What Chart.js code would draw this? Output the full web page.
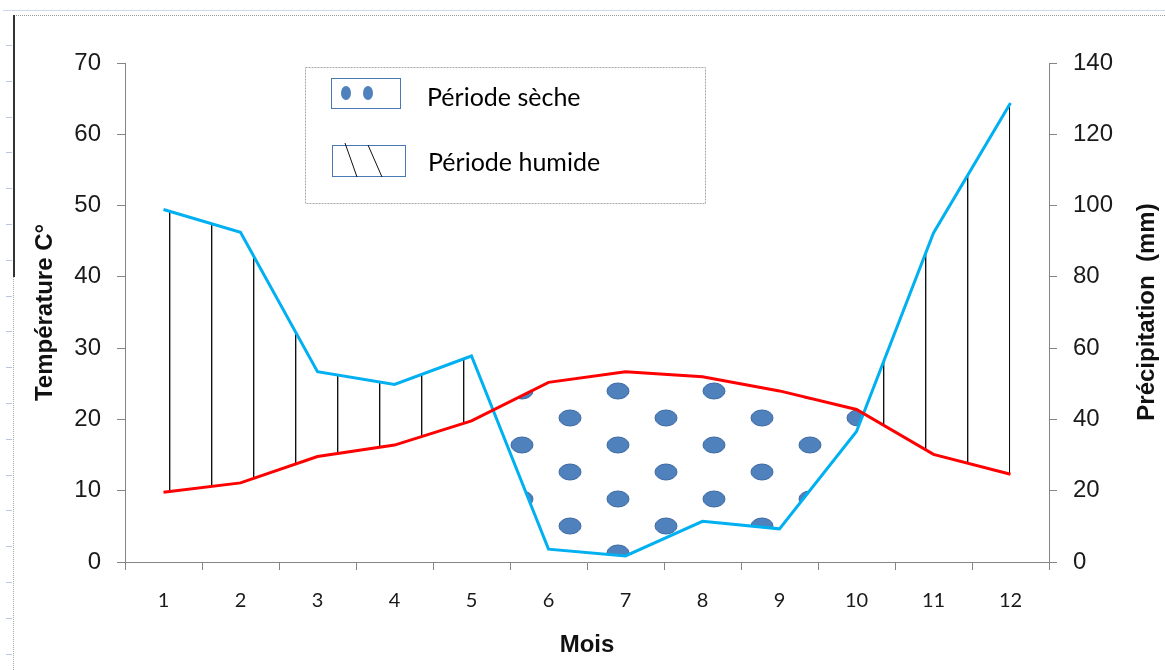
<!DOCTYPE html>
<html lang="fr">
<head>
<meta charset="utf-8">
<title>Diagramme ombrothermique</title>
<script src="https://cdn.jsdelivr.net/npm/chart.js@4.4.0/dist/chart.umd.min.js"></script>
<style>
  html, body { margin: 0; padding: 0; background: #fff; }
  canvas { display: block; }
</style>
</head>
<body>
<canvas id="climChart" width="1165" height="670"></canvas>
<script>
const mois = ["1", "2", "3", "4", "5", "6", "7", "8", "9", "10", "11", "12"];
const temperature = [9.8, 11.1, 14.8, 16.4, 19.8, 25.2, 26.7, 26.0, 24.0, 21.4, 15.1, 12.3];
const precipitation = [98.9, 92.5, 53.4, 49.8, 57.8, 3.6, 1.7, 11.4, 9.3, 36.6, 92.3, 128.8];
const tempMax = 70, tempStep = 10;
const precMax = 140, precStep = 20;
const titreTemp = "Température C°";
const titrePrec = "Précipitation  (mm)";
const titreMois = "Mois";
const legende = ["Période sèche", "Période humide"];

const canvas = document.getElementById("climChart");
const ctx = canvas.getContext("2d");

const fontTitre = '"Liberation Sans", Arial, sans-serif';
const fontTicks = '"Liberation Sans Narrow", "Liberation Sans", Arial, sans-serif';

// motif à points (période sèche)
function motifPoints() {
  const w = 96, h = 54;
  const c = document.createElement("canvas");
  c.width = w; c.height = h;
  const g = c.getContext("2d");
  g.fillStyle = "#4f81bd";
  g.strokeStyle = "#3d6aa3";
  g.lineWidth = 1;
  const centres = [[42, 13], [90, 40]];
  for (const [cx, cy] of centres) {
    for (const dx of [-w, 0, w]) {
      for (const dy of [-h, 0, h]) {
        g.beginPath();
        g.ellipse(cx + dx, cy + dy, 11, 8, 0, 0, Math.PI * 2);
        g.fill();
        g.stroke();
      }
    }
  }
  return ctx.createPattern(c, "repeat");
}

// motif à hachures verticales (période humide)
function motifHachures() {
  const c = document.createElement("canvas");
  c.width = 42; c.height = 6;
  const g = c.getContext("2d");
  g.fillStyle = "#111";
  g.fillRect(1, 0, 1, 6);
  g.fillStyle = "rgba(0,0,0,0.35)";
  g.fillRect(2, 0, 1, 6);
  return ctx.createPattern(c, "repeat");
}

function trait(g, x1, y1, x2, y2) {
  g.beginPath();
  g.moveTo(x1, y1);
  g.lineTo(x2, y2);
  g.stroke();
}

const cadre = {
  id: "cadre",
  beforeDraw(chart) {
    const g = chart.ctx;
    g.save();
    g.fillStyle = "#fff";
    g.fillRect(0, 0, chart.width, chart.height);
    g.lineWidth = 1;
    g.strokeStyle = "#cdd7ea";
    trait(g, 3, 10.5, chart.width, 10.5);
    g.strokeStyle = "#b9c6de";
    for (let y = 45; y < chart.height; y += 35.8) {
      trait(g, 6, Math.round(y) + 0.5, 12, Math.round(y) + 0.5);
    }
    g.setLineDash([1, 1]);
    g.strokeStyle = "#9a9a9a";
    trait(g, 14, 15.5, chart.width, 15.5);
    g.strokeStyle = "#aaa";
    trait(g, 13.5, 277, 13.5, chart.height);
    g.setLineDash([]);
    g.strokeStyle = "#333";
    g.lineWidth = 2;
    trait(g, 14, 15, 14, 277);
    g.restore();
  }
};

const legendeBox = {
  id: "legendeBox",
  afterDraw(chart) {
    const g = chart.ctx;
    g.save();
    g.lineWidth = 1;
    g.setLineDash([2, 1]);
    g.strokeStyle = "#a8a8a8";
    g.strokeRect(305.5, 67.5, 400, 136);
    g.setLineDash([]);
    g.strokeStyle = "#4a78b4";
    g.strokeRect(331.5, 78.5, 69, 30);
    g.strokeRect(332.5, 145.5, 73, 31);

    g.fillStyle = "#4f81bd";
    for (const cx of [346, 368]) {
      g.beginPath();
      g.ellipse(cx, 93, 5, 7, 0, 0, Math.PI * 2);
      g.fill();
    }
    g.strokeStyle = "#111";
    trait(g, 345, 143, 357, 177);
    trait(g, 368, 145, 382, 177);

    g.fillStyle = "#000";
    g.font = '25px Lato, "Open Sans", sans-serif';
    g.textBaseline = "middle";
    g.textAlign = "left";
    g.fillText(legende[0], 427, 98);
    g.fillText(legende[1], 428, 163);
    g.restore();
  }
};

const titreDroite = {
  id: "titreDroite",
  afterDraw(chart) {
    const g = chart.ctx;
    g.save();
    g.translate(1147, 312);
    g.rotate(-Math.PI / 2);
    g.fillStyle = "#111";
    g.font = "bold 24px " + fontTitre;
    g.textAlign = "center";
    g.textBaseline = "middle";
    g.fillText(titrePrec, 0, 0);
    g.restore();
  }
};

new Chart(ctx, {
  type: "line",
  data: {
    labels: mois,
    datasets: [
      {
        label: "Température",
        data: temperature,
        yAxisID: "yT",
        borderColor: "#ff0000",
        borderWidth: 3,
        pointRadius: 0,
        tension: 0,
        fill: false
      },
      {
        label: "Précipitation",
        data: precipitation,
        yAxisID: "yP",
        borderColor: "#00b0f0",
        borderWidth: 3,
        pointRadius: 0,
        tension: 0,
        fill: { target: 0, above: motifHachures(), below: motifPoints() }
      }
    ]
  },
  options: {
    responsive: false,
    animation: false,
    layout: { padding: { top: 63, left: 0, right: 0, bottom: 0 } },
    plugins: {
      legend: { display: false },
      tooltip: { enabled: false },
      filler: { propagate: false }
    },
    scales: {
      x: {
        type: "category",
        offset: true,
        grid: { offset: true, drawOnChartArea: false, color: "#858585", tickLength: 8 },
        border: { color: "#858585" },
        ticks: {
          color: "#1a1a1a",
          font: { family: 'Lato, "Open Sans", sans-serif', size: 20 },
          padding: 19,
          maxRotation: 0,
          autoSkip: false
        },
        title: {
          display: true,
          text: titreMois,
          color: "#111",
          font: { family: fontTitre, size: 24, weight: "bold" },
          padding: { top: 0, bottom: 10 }
        },
        afterFit(s) { s.height = 108; }
      },
      yT: {
        position: "left",
        min: 0,
        max: tempMax,
        grid: { drawOnChartArea: false, color: "#858585", tickLength: 8 },
        border: { color: "#858585" },
        ticks: { stepSize: tempStep, color: "#1a1a1a", font: { family: fontTicks, size: 24 }, padding: 16 },
        title: {
          display: true,
          text: titreTemp,
          color: "#111",
          font: { family: fontTitre, size: 24, weight: "bold" },
          padding: { top: 31, bottom: 0 }
        },
        afterFit(s) { s.width = 125; }
      },
      yP: {
        position: "right",
        min: 0,
        max: precMax,
        grid: { drawOnChartArea: false, color: "#858585", tickLength: 8 },
        border: { color: "#858585" },
        ticks: { stepSize: precStep, color: "#1a1a1a", font: { family: fontTicks, size: 24 }, padding: 16 },
        afterFit(s) { s.width = 116; }
      }
    }
  },
  plugins: [cadre, legendeBox, titreDroite]
});
</script>
</body>
</html>
